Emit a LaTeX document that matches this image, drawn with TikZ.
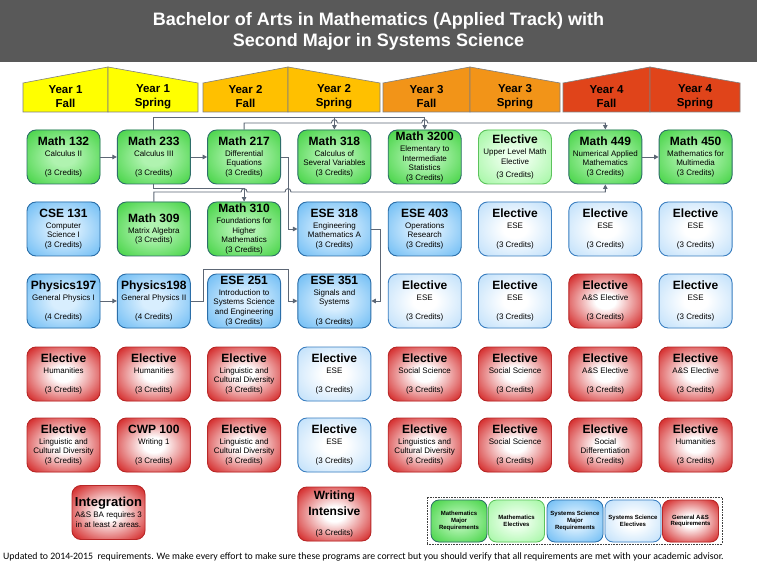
\documentclass[tikz,border=0pt]{standalone}
\usepackage{fontspec}
\setmainfont{Liberation Sans}
\newfontfamily\footfont{Carlito}
\usetikzlibrary{arrows.meta}
\definecolor{titlebg}{HTML}{595959}
\definecolor{yA}{HTML}{FFFF00}
\definecolor{yB}{HTML}{FFC000}
\definecolor{yC}{HTML}{F29418}
\definecolor{yD}{HTML}{E0441A}
\definecolor{hdrline}{HTML}{7F7F7F}
\definecolor{lineC}{HTML}{5D6775}
\definecolor{gEdge}{HTML}{36CF36}
\definecolor{gCtr}{HTML}{B0F3B0}
\definecolor{gBord}{HTML}{2E6E6A}
\definecolor{lgEdge}{HTML}{95F595}
\definecolor{lgCtr}{HTML}{EAFFEA}
\definecolor{lgBord}{HTML}{5CC25C}
\definecolor{bEdge}{HTML}{58B2F2}
\definecolor{bCtr}{HTML}{D8EEFE}
\definecolor{bBord}{HTML}{2B6EA8}
\definecolor{lbEdge}{HTML}{BCDEFA}
\definecolor{lbCtr}{HTML}{FFFFFF}
\definecolor{lbBord}{HTML}{3A7EC0}
\definecolor{rEdge}{HTML}{D63333}
\definecolor{rCtr}{HTML}{FFFFFF}
\definecolor{rBord}{HTML}{B82828}
\pgfdeclareradialshading{shG}{\pgfpoint{0bp}{0bp}}{color(0bp)=(gCtr); color(8bp)=(gCtr); color(38bp)=(gEdge); color(50bp)=(gEdge)}
\pgfdeclareradialshading{shLG}{\pgfpoint{0bp}{0bp}}{color(0bp)=(lgCtr); color(8bp)=(lgCtr); color(40bp)=(lgEdge); color(50bp)=(lgEdge)}
\pgfdeclareradialshading{shB}{\pgfpoint{0bp}{0bp}}{color(0bp)=(bCtr); color(8bp)=(bCtr); color(40bp)=(bEdge); color(50bp)=(bEdge)}
\pgfdeclareradialshading{shLB}{\pgfpoint{0bp}{0bp}}{color(0bp)=(lbCtr); color(8bp)=(lbCtr); color(36bp)=(lbEdge); color(50bp)=(lbEdge)}
\pgfdeclareradialshading{shR}{\pgfpoint{0bp}{0bp}}{color(0bp)=(rCtr); color(7bp)=(rCtr); color(32bp)=(rEdge); color(50bp)=(rEdge)}
\newcommand{\ttl}[1]{{\fontsize{12}{12}\selectfont\bfseries #1}}
\begin{document}
\begin{tikzpicture}[x=1pt,y=-1pt,
  box/.style={rounded corners=9pt, minimum width=73pt, minimum height=54pt, inner sep=0pt, align=center, line width=0.9pt, font=\fontsize{8}{9.7}\selectfont},
  legbox/.style={rounded corners=8pt, minimum width=56pt, minimum height=42pt, inner sep=0pt, align=center, line width=0.8pt, font=\fontsize{6}{6.8}\selectfont\bfseries},
  kG/.style={draw=gBord, preaction={fill=gEdge}, shading=shG},
  kLG/.style={draw=lgBord, preaction={fill=lgEdge}, shading=shLG},
  kB/.style={draw=bBord, preaction={fill=bEdge}, shading=shB},
  kLB/.style={draw=lbBord, preaction={fill=lbEdge}, shading=shLB},
  kR/.style={draw=rBord, preaction={fill=rEdge}, shading=shR},
  hdr/.style={align=center, inner sep=0pt, font=\fontsize{11.5}{14}\selectfont\bfseries},
  conn/.style={draw=lineC, line width=0.9pt, -{Triangle[length=4.5pt,width=4.5pt]}}
]
\useasboundingbox (0,0) rectangle (757,577);
\fill[white] (0,0) rectangle (757,577);
% title
\fill[titlebg] (0,0) rectangle (757,62);
\node[font=\fontsize{18}{21}\selectfont\bfseries, text=white, align=center] (title) at (378.5,31.5) {Bachelor of Arts in Mathematics (Applied Track) with\\Second Major in Systems Science};
% header
\foreach \L/\M/\R/\c in {23/108/198/yA, 203/288/380/yB, 383/470/560/yC, 563/650/740/yD}{
  \filldraw[fill=\c, draw=hdrline, line width=0.6pt] (\L,112) -- (\L,83) -- (\M,67) -- (\M,112) -- cycle;
  \filldraw[fill=\c, draw=hdrline, line width=0.6pt] (\M,112) -- (\M,67) -- (\R,83) -- (\R,112) -- cycle;
}
\node[hdr] (h1) at (65.5,96.5) {Year 1\\Fall};
\node[hdr] (h2) at (153,96.5) {Year 1\\Spring};
\node[hdr] (h3) at (245.5,96.5) {Year 2\\Fall};
\node[hdr] (h4) at (334,96.5) {Year 2\\Spring};
\node[hdr] (h5) at (426.5,96.5) {Year 3\\Fall};
\node[hdr] (h6) at (515,96.5) {Year 3\\Spring};
\node[hdr] (h7) at (606.5,96.5) {Year 4\\Fall};
\node[hdr] (h8) at (695,96.5) {Year 4\\Spring};
% row 1
\node[box,kG] (c11) at (63.5,157) {\ttl{Math 132}\\[1pt]Calculus II\\~\\(3 Credits)};
\node[box,kG] (c12) at (153.8,157) {\ttl{Math 233}\\[1pt]Calculus III\\~\\(3 Credits)};
\node[box,kG] (c13) at (244.1,157) {\ttl{Math 217}\\[1pt]Differential\\Equations\\(3 Credits)};
\node[box,kG] (c14) at (334.4,157) {\ttl{Math 318}\\[1pt]Calculus of\\Several Variables\\(3 Credits)};
\node[box,kG] (c15) at (424.7,157) {\ttl{Math 3200}\\[1pt]Elementary to\\Intermediate\\Statistics\\(3 Credits)};
\node[box,kLG] (c16) at (515,157) {\ttl{Elective}\\[1pt]Upper Level Math\\Elective\\[3pt](3 Credits)};
\node[box,kG] (c17) at (605.3,157) {\ttl{Math 449}\\[1pt]Numerical Applied\\Mathematics\\(3 Credits)};
\node[box,kG] (c18) at (695.6,157) {\ttl{Math 450}\\[1pt]Mathematics for\\Multimedia\\(3 Credits)};
% row 2
\node[box,kB] (c21) at (63.5,229) {\ttl{CSE 131}\\[1pt]Computer\\Science I\\(3 Credits)};
\node[box,kG] (c22) at (153.8,229) {\ttl{Math 309}\\[1pt]Matrix Algebra\\(3 Credits)};
\node[box,kG] (c23) at (244.1,229) {\ttl{Math 310}\\[1pt]Foundations for\\Higher\\Mathematics\\(3 Credits)};
\node[box,kB] (c24) at (334.4,229) {\ttl{ESE 318}\\[1pt]Engineering\\Mathematics A\\(3 Credits)};
\node[box,kB] (c25) at (424.7,229) {\ttl{ESE 403}\\[1pt]Operations\\Research\\(3 Credits)};
\node[box,kLB] (c26) at (515,229) {\ttl{Elective}\\[1pt]ESE\\~\\(3 Credits)};
\node[box,kLB] (c27) at (605.3,229) {\ttl{Elective}\\[1pt]ESE\\~\\(3 Credits)};
\node[box,kLB] (c28) at (695.6,229) {\ttl{Elective}\\[1pt]ESE\\~\\(3 Credits)};
% row 3
\node[box,kB] (c31) at (63.5,301) {\ttl{Physics197}\\[1pt]General Physics I\\~\\(4 Credits)};
\node[box,kB] (c32) at (153.8,301) {\ttl{Physics198}\\[1pt]General Physics II\\~\\(4 Credits)};
\node[box,kB] (c33) at (244.1,301) {\ttl{ESE 251}\\[1pt]Introduction to\\Systems Science\\and Engineering\\(3 Credits)};
\node[box,kB] (c34) at (334.4,301) {\ttl{ESE 351}\\[1pt]Signals and\\Systems\\~\\(3 Credits)};
\node[box,kLB] (c35) at (424.7,301) {\ttl{Elective}\\[1pt]ESE\\~\\(3 Credits)};
\node[box,kLB] (c36) at (515,301) {\ttl{Elective}\\[1pt]ESE\\~\\(3 Credits)};
\node[box,kR] (c37) at (605.3,301) {\ttl{Elective}\\[1pt]A\&S Elective\\~\\(3 Credits)};
\node[box,kLB] (c38) at (695.6,301) {\ttl{Elective}\\[1pt]ESE\\~\\(3 Credits)};
% row 4
\node[box,kR] (c41) at (63.5,374) {\ttl{Elective}\\[1pt]Humanities\\~\\(3 Credits)};
\node[box,kR] (c42) at (153.8,374) {\ttl{Elective}\\[1pt]Humanities\\~\\(3 Credits)};
\node[box,kR] (c43) at (244.1,374) {\ttl{Elective}\\[1pt]Linguistic and\\Cultural Diversity\\(3 Credits)};
\node[box,kLB] (c44) at (334.4,374) {\ttl{Elective}\\[1pt]ESE\\~\\(3 Credits)};
\node[box,kR] (c45) at (424.7,374) {\ttl{Elective}\\[1pt]Social Science\\~\\(3 Credits)};
\node[box,kR] (c46) at (515,374) {\ttl{Elective}\\[1pt]Social Science\\~\\(3 Credits)};
\node[box,kR] (c47) at (605.3,374) {\ttl{Elective}\\[1pt]A\&S Elective\\~\\(3 Credits)};
\node[box,kR] (c48) at (695.6,374) {\ttl{Elective}\\[1pt]A\&S Elective\\~\\(3 Credits)};
% row 5
\node[box,kR] (c51) at (63.5,445) {\ttl{Elective}\\[1pt]Linguistic and\\Cultural Diversity\\(3 Credits)};
\node[box,kR] (c52) at (153.8,445) {\ttl{CWP 100}\\[1pt]Writing 1\\~\\(3 Credits)};
\node[box,kR] (c53) at (244.1,445) {\ttl{Elective}\\[1pt]Linguistic and\\Cultural Diversity\\(3 Credits)};
\node[box,kLB] (c54) at (334.4,445) {\ttl{Elective}\\[1pt]ESE\\~\\(3 Credits)};
\node[box,kR] (c55) at (424.7,445) {\ttl{Elective}\\[1pt]Linguistics and\\Cultural Diversity\\(3 Credits)};
\node[box,kR] (c56) at (515,445) {\ttl{Elective}\\[1pt]Social Science\\~\\(3 Credits)};
\node[box,kR] (c57) at (605.3,445) {\ttl{Elective}\\[1pt]Social\\Differentiation\\(3 Credits)};
\node[box,kR] (c58) at (695.6,445) {\ttl{Elective}\\[1pt]Humanities\\~\\(3 Credits)};
% row 6
\node[box,kR] (integ) at (108.5,512.5) {{\fontsize{13}{13}\selectfont\bfseries Integration}\\[1pt]A\&S BA requires 3\\in at least 2 areas.};
\node[box,kR] (wi) at (334.4,514) {\ttl{Writing}\\[4pt]\ttl{Intensive}\\~\\(3 Credits)};
% connectors
\draw[conn] (c11) -- (c12);
\draw[conn] (c12) -- (c13);
\draw[conn] (c17) -- (c18);
\draw[conn] (c31) -- (c32);
\draw[conn] (c13.east) -- (288,157) |- (c24.west);
\draw[conn] (c24.east) -- ++(9,0) |- (c34.east);
\draw[conn] (c32.east) -- ++(13,0) |- (288,269) |- (c34.west);
\draw[conn] (c12.south) -- ++(0,4) -| (c23.north);
\draw[conn] (c22.north) -- (153.8,192) -- (241.1,192) .. controls (241.1,187.5) and (247.1,187.5) .. (247.1,192) -- (285,192) .. controls (285,187.5) and (291,187.5) .. (291,192) -- (605.3,192) -- (c17.south);
\draw[conn] (c12.north) -- (153.8,117) -| (c15.north);
\draw[conn] (334.4,117) -- (c14.north);
\draw[conn] (c13.north) -- (244.1,123) -- (331.4,123) .. controls (331.4,118.5) and (337.4,118.5) .. (337.4,123) -- (421.7,123) .. controls (421.7,118.5) and (427.7,118.5) .. (427.7,123) -- (605.3,123) -- (c17.north);
% legend
\node[draw=black!75, densely dotted, line width=0.6pt, minimum width=295pt, minimum height=47pt, inner sep=0pt] (legend) at (574.5,520.5) {};
\node[legbox,kG] (l1) at (459,521) {Mathematics\\Major\\Requirements};
\node[legbox,kLG] (l2) at (516.5,521) {Mathematics\\Electives};
\node[legbox,kB] (l3) at (575,521) {Systems Science\\Major\\Requirements};
\node[legbox,kLB] (l4) at (633,521) {Systems Science\\Electives};
\node[legbox,kR] (l5) at (690.5,521) {General A\&S\\Requirements};
% footer
\node[anchor=west, inner sep=0pt, font=\footfont\fontsize{9.8}{11}\selectfont] (foot) at (3,557) {Updated to 2014-2015~ requirements. We make every effort to make sure these programs are correct but you should verify that all requirements are met with your academic advisor.};
\end{tikzpicture}
\end{document}
